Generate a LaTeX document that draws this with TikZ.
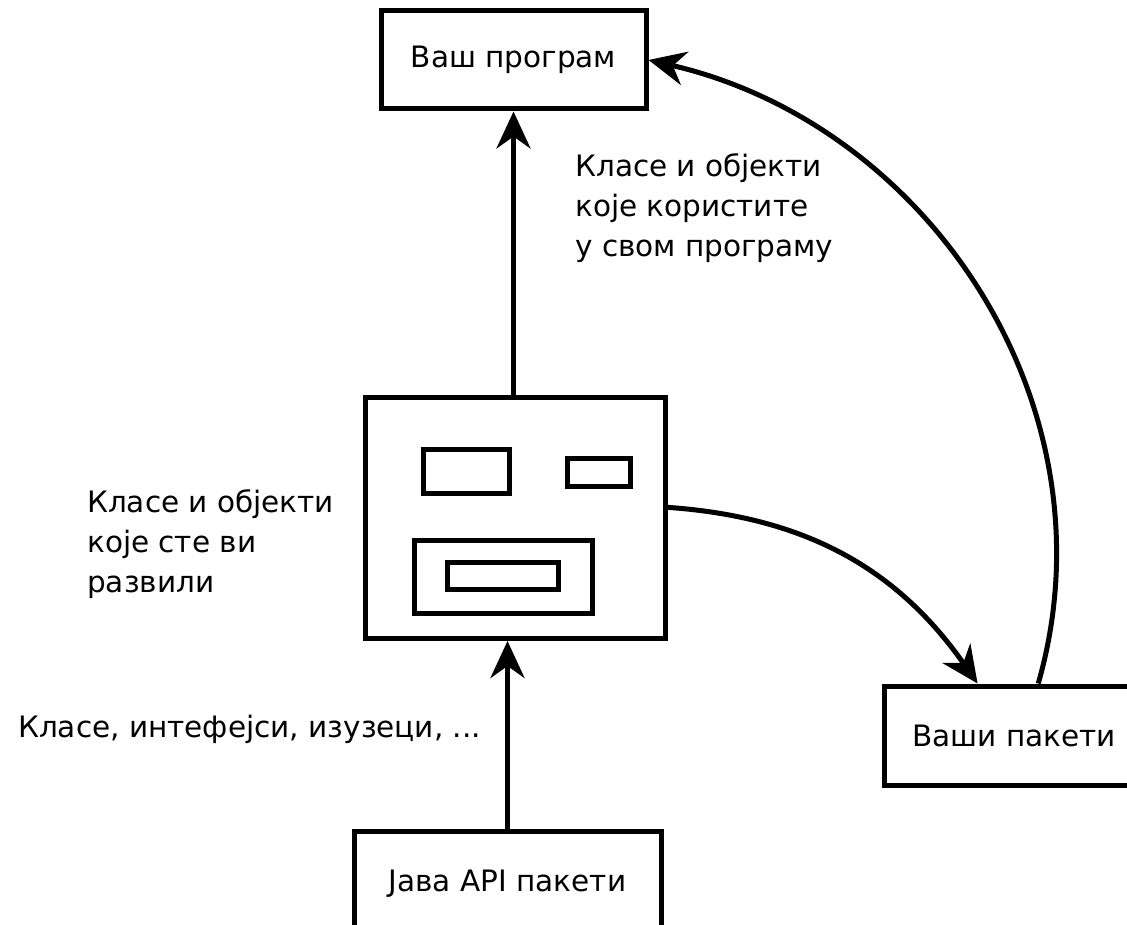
\documentclass[tikz,border=0pt]{standalone}
\usepackage{fontspec}
\setmainfont{DejaVu Sans}
\usetikzlibrary{positioning,arrows.meta,calc}
\tikzstyle{pbox}=[rectangle, draw=black, line width=5pt, fill=white, inner sep=0pt, text centered]
\tikzstyle{ibox}=[rectangle, draw=black, line width=5pt, inner sep=0pt]
\tikzstyle{lbl}=[inner sep=0pt, align=left, anchor=north west]
\tikzstyle{line}=[-{Stealth[length=37pt,width=34pt,inset=12pt]}, line width=5pt]

\begin{document}
\begin{tikzpicture}[x=1pt, y=1pt, font=\fontsize{29.5}{40}\selectfont]
\useasboundingbox (0,0) rectangle (1127,-925);

    \node (prog) [pbox, minimum width=265pt, minimum height=98pt] at (513.5,-60) {Ваш програм};
    \node (mid) [pbox, minimum width=300pt, minimum height=241pt, below=283.5pt of prog, xshift=1.5pt] {};
    \node (api) [pbox, minimum width=307pt, minimum height=106pt, below=187.5pt of mid, xshift=-7.5pt] {Јава API пакети};
    \node (pkg) [pbox, minimum width=259pt, minimum height=99pt, below right=42.5pt and 214.5pt of mid] {Ваши пакети};

% inside the middle box
    \node (r1) [ibox, minimum width=86pt, minimum height=44pt] at (466,-471) {};
    \node (r2) [ibox, minimum width=63pt, minimum height=28pt] at (598.5,-472) {};
    \node (r3) [ibox, minimum width=178pt, minimum height=73pt] at (503,-576.5) {};
    \node (r4) [ibox, minimum width=111pt, minimum height=27pt] at (502.5,-575.5) {};

% labels
    \node (lbluse) [lbl] at (575,-153) {Класе и објекти\\које користите\\у свом програму};
    \node (lblown) [lbl] at (87,-489) {Класе и објекти\\које сте ви\\развили};
    \node (lblapi) [lbl] at (18,-715) {Класе, интефејси, изузеци, ...};

%arrows
   \draw[line] (mid.north -| prog.south) -- (prog.south);
   \draw[line] (api.north) -- (api.north |- mid.south);
   \draw[line] (mid.4) to[out=-4, in=125] (pkg.125);
   \draw[line] (pkg.65) to[out=74, in=-13] (prog.east);

\end{tikzpicture}
\end{document}
